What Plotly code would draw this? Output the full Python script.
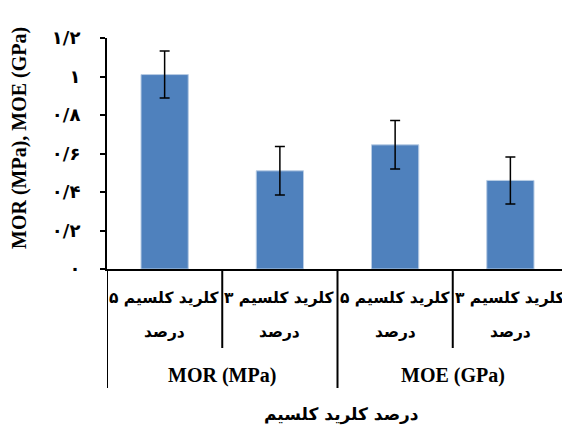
import plotly.graph_objects as go

# ---- data ----
groups = ["MOR (MPa)", "MOR (MPa)", "MOE (GPa)", "MOE (GPa)"]
level_line1 = ["کلرید کلسیم ۵", "کلرید کلسیم ۳", "کلرید کلسیم ۵", "کلرید کلسیم ۳"]
level_line2 = ["درصد", "درصد", "درصد", "درصد"]
values = [1.01, 0.51, 0.645, 0.46]
errors = [0.122, 0.126, 0.126, 0.122]
y_ticks = [0, 0.2, 0.4, 0.6, 0.8, 1.0, 1.2]
y_tick_labels = ["۰", "۰/۲", "۰/۴", "۰/۶", "۰/۸", "۱", "۱/۲"]
x_title = "درصد کلرید کلسیم"
y_title = "MOR (MPa), MOE (GPa)"

categories = [f"{g} | {a} {b}" for g, a, b in zip(groups, level_line1, level_line2)]

# the page body adds an 8px margin: compensate so the chart lands at the reference pixels
OFF = 8
W, H = 570 - OFF, 430 - OFF
ML, MR, MT, MB = 107 - OFF, 2, 38 - OFF, 161
plot_h = H - MT - MB
plot_w = W - ML - MR
BOTTOM = 269  # reference pixel row of the x axis


def py(pix):
    """reference pixel row -> paper y"""
    return (BOTTOM - pix) / plot_h


def px(pix):
    return (pix - 107) / plot_w


persian_font = dict(family="DejaVu Sans", size=15.5, color="black", weight="bold")
latin_font = dict(family="Liberation Serif", size=20, color="black", weight="bold")

fig = go.Figure()
fig.add_trace(go.Bar(
    x=categories,
    y=values,
    width=0.41,
    marker=dict(color="#4F81BD", line=dict(color="#B8CCE4", width=1)),
    error_y=dict(type="data", array=errors, visible=True, color="black",
                 thickness=1.5, width=5),
))

annotations = []
shapes = []
for i, cat in enumerate(categories):
    annotations.append(dict(x=cat, xref="x", y=py(298), yref="paper",
                            text=level_line1[i], showarrow=False,
                            xanchor="center", yanchor="middle", font=persian_font))
    annotations.append(dict(x=cat, xref="x", y=py(332), yref="paper",
                            text=level_line2[i], showarrow=False,
                            xanchor="center", yanchor="middle", font=persian_font))

# group labels and dividers
n = len(categories)
group_names = []
for g in groups:
    if g not in group_names:
        group_names.append(g)
for g in group_names:
    idx = [i for i, gg in enumerate(groups) if gg == g]
    annotations.append(dict(x=sum(idx) / len(idx), xref="x", y=py(375), yref="paper",
                            text=g, showarrow=False, xanchor="center",
                            yanchor="middle", font=latin_font))

for b in range(n + 1):
    pos = b - 0.5
    is_group_edge = b == 0 or b == n or groups[b] != groups[b - 1]
    y_end = py(388) if is_group_edge else py(348)
    shapes.append(dict(type="line", xref="x", yref="paper", x0=pos, x1=pos,
                       y0=0, y1=y_end, line=dict(color="black", width=2)))

annotations.append(dict(x=px(341), xref="paper", y=py(414), yref="paper",
                        text=x_title, showarrow=False, xanchor="center",
                        yanchor="middle", font=dict(persian_font, size=17)))
annotations.append(dict(x=px(19), xref="paper", y=py(138), yref="paper",
                        text=y_title, showarrow=False, textangle=-90,
                        xanchor="center", yanchor="middle", font=latin_font))

fig.update_layout(
    width=W, height=H,
    margin=dict(l=ML, r=MR, t=MT, b=MB, autoexpand=False),
    paper_bgcolor="white", plot_bgcolor="white",
    showlegend=False,
    annotations=annotations,
    shapes=shapes,
    xaxis=dict(type="category", categoryorder="array", categoryarray=categories,
               range=[-0.5, n - 0.5], showticklabels=False, ticks="",
               showline=True, linecolor="black", linewidth=2,
               showgrid=False, zeroline=False, fixedrange=True),
    yaxis=dict(range=[0, 1.2], tickvals=y_ticks, ticktext=y_tick_labels,
               ticks="outside", ticklen=5, tickwidth=2, tickcolor="black",
               ticklabelstandoff=16,
               tickfont=dict(family="DejaVu Sans", size=18, color="black", weight="bold"),
               showline=True, linecolor="black", linewidth=2,
               showgrid=False, zeroline=False, fixedrange=True),
)

fig.write_html("out.html")
